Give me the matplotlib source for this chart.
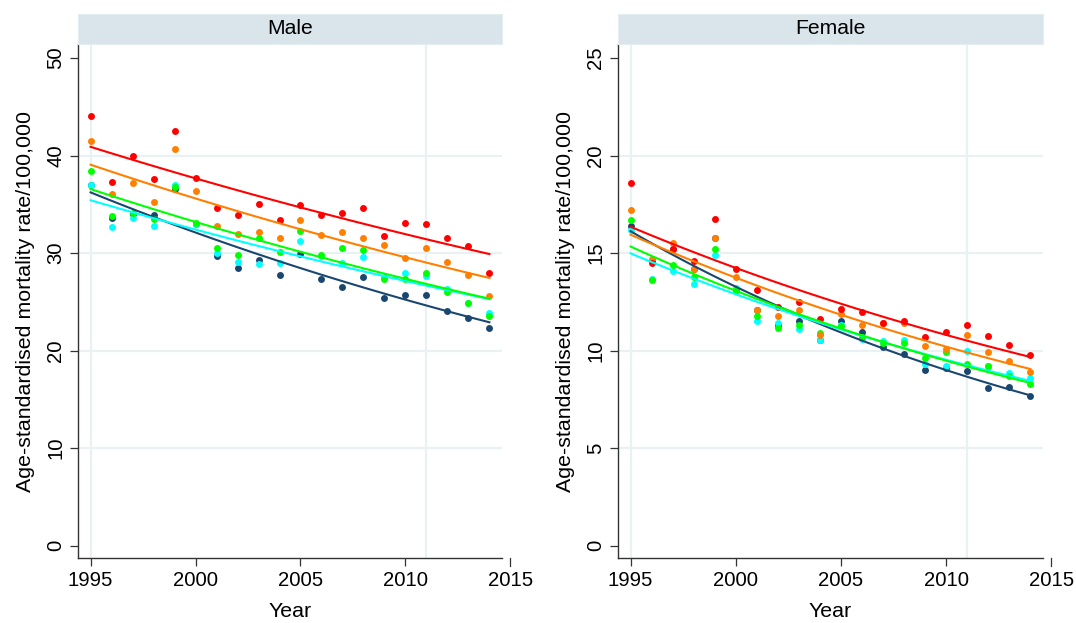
import numpy as np
import matplotlib
matplotlib.use("Agg")
import matplotlib.pyplot as plt
from matplotlib.transforms import blended_transform_factory

plt.rcParams['font.family'] = ['Liberation Sans', 'DejaVu Sans']

years = np.arange(1995, 2015)

# Age-standardised mortality rates per 100,000, by group
male_red = [44.1, 37.3, 40.0, 37.6, 42.5, 37.7, 34.6, 33.9, 35.0, 33.4,
            34.9, 33.9, 34.1, 34.6, 31.8, 33.1, 33.0, 31.5, 30.7, 28.0]
male_orange = [41.5, 36.1, 37.2, 35.2, 40.7, 36.4, 32.8, 32.0, 32.2, 31.5,
               33.4, 31.9, 32.2, 31.5, 30.8, 29.5, 30.5, 29.1, 27.8, 25.6]
male_green = [38.4, 33.8, 34.1, 33.5, 36.8, 33.1, 30.5, 29.8, 31.6, 30.1,
              32.3, 29.8, 30.5, 30.3, 27.3, 27.3, 28.0, 26.0, 24.9, 23.6]
male_cyan = [37.0, 32.7, 33.6, 32.8, 37.0, 33.0, 30.0, 29.1, 28.9, 29.0,
             31.2, 29.7, 29.0, 29.6, 27.5, 28.0, 27.7, 26.3, 24.9, 23.9]
male_navy = [37.0, 33.6, 34.0, 33.9, 36.6, 33.0, 29.7, 28.5, 29.3, 27.8,
             29.9, 27.3, 26.5, 27.6, 25.4, 25.7, 25.7, 24.1, 23.3, 22.3]

female_red = [18.6, 14.5, 15.2, 14.6, 16.75, 14.2, 13.1, 12.25, 12.5, 11.6,
              12.15, 12.0, 11.4, 11.5, 10.7, 10.95, 11.3, 10.75, 10.3, 9.8]
female_orange = [17.2, 14.7, 15.5, 14.2, 15.8, 13.8, 12.1, 11.8, 12.1, 10.8,
                 11.9, 11.3, 11.4, 11.4, 10.25, 10.1, 10.8, 9.95, 9.45, 8.9]
female_green = [16.7, 13.6, 14.4, 13.8, 15.2, 13.1, 11.8, 11.15, 11.3, 10.9,
                11.25, 10.7, 10.4, 10.4, 9.6, 9.95, 9.3, 9.2, 8.7, 8.3]
female_cyan = [16.2, 13.65, 14.1, 13.4, 14.9, 13.2, 11.5, 11.4, 11.1, 10.55,
               11.3, 10.6, 10.5, 10.55, 9.3, 9.2, 10.0, 9.2, 8.85, 8.6]
female_navy = [16.4, 14.6, 15.2, 14.2, 15.8, 13.1, 12.1, 11.3, 11.5, 10.55,
               11.5, 10.95, 10.2, 9.85, 9.0, 9.1, 8.95, 8.1, 8.15, 7.7]

panel_titles = ["Male", "Female"]
y_ticks = [[0, 10, 20, 30, 40, 50], [0, 5, 10, 15, 20, 25]]
y_limits = [(-1.26, 51.44), (-0.63, 25.72)]
x_ticks = [1995, 2000, 2005, 2010, 2015]
x_grid = [1995, 2011]
x_limits = (1994.4, 2014.6)

# drawing order: navy first, red on top
colors = ["#1a476f", "#00ffff", "#00ff00", "#ff7f00", "#ff0000"]
panels = [
    [male_navy, male_cyan, male_green, male_orange, male_red],
    [female_navy, female_cyan, female_green, female_orange, female_red],
]

fig = plt.figure(figsize=(10.76, 6.23), dpi=100)
W, H = 1076, 623
axes_px = [(78, 502), (618, 1043)]
top_px, bottom_px = 44, 558
strip_top = 14

grid_col = "#eaf1f3"
strip_col = "#d9e5ea"
tick_fs = 14.6
title_fs = 15.4

for i, (x0, x1) in enumerate(axes_px):
    ax = fig.add_axes([x0 / W, (H - bottom_px) / H, (x1 - x0) / W, (bottom_px - top_px) / H])
    ax.set_xlim(*x_limits)
    ax.set_ylim(*y_limits[i])

    # grid
    for yv in y_ticks[i][1:-1]:
        ax.axhline(yv, color=grid_col, lw=1.6, zorder=0)
    for xv in x_grid:
        ax.axvline(xv, color=grid_col, lw=1.6, zorder=0)

    t = years.astype(float)
    for vals, c in zip(panels[i], colors):
        v = np.asarray(vals, dtype=float)
        ax.plot(t, v, 'o', ms=5.0, color=c, mec='none', zorder=3)
    # log-linear trend for each group
    for vals, c in zip(panels[i], colors):
        v = np.asarray(vals, dtype=float)
        b, a = np.polyfit(t - 1995, np.log(v), 1, w=np.sqrt(v))
        tt = np.linspace(1995, 2014, 60)
        ax.plot(tt, np.exp(a + b * (tt - 1995)), color=c, lw=1.5, zorder=4)

    for s in ["top", "right"]:
        ax.spines[s].set_visible(False)
    for s in ["left", "bottom"]:
        ax.spines[s].set_color("#333333")
        ax.spines[s].set_linewidth(1.0)

    ax.set_yticks(y_ticks[i])
    ax.set_yticklabels([str(v) for v in y_ticks[i]], rotation=90, va='center', ha='right',
                       fontsize=tick_fs)
    ax.set_xticks(x_ticks[:-1])
    ax.set_xticklabels([str(v) for v in x_ticks[:-1]], fontsize=tick_fs)
    ax.tick_params(axis='both', direction='out', length=5.5, width=0.9, color="#333333",
                   pad=3.5)

    # last tick sits just past the end of the axis line
    trans = blended_transform_factory(ax.transData, ax.transAxes)
    tick_len = 5.5 / 72 * 100 / (bottom_px - top_px)
    ax.plot([x_ticks[-1], x_ticks[-1]], [0, -tick_len], transform=trans, color="#333333",
            lw=0.9, clip_on=False)
    ax.text(x_ticks[-1], -tick_len - 3.5 / 72 * 100 / (bottom_px - top_px), str(x_ticks[-1]),
            transform=trans, ha='center', va='top', fontsize=tick_fs, clip_on=False)

    ax.set_xlabel("Year", fontsize=title_fs, labelpad=9)
    ax.set_ylabel("Age-standardised mortality rate/100,000", fontsize=title_fs, labelpad=8)

    # panel strip
    sax = fig.add_axes([x0 / W, (H - top_px) / H, (x1 - x0) / W, (top_px - strip_top) / H])
    sax.set_facecolor(strip_col)
    sax.set_xticks([])
    sax.set_yticks([])
    for s in sax.spines.values():
        s.set_color("#e4edf0")
        s.set_linewidth(0.8)
    sax.text(0.5, 0.5, panel_titles[i], ha='center', va='center', fontsize=15.2,
             transform=sax.transAxes)

fig.savefig("out.png", dpi=100, facecolor="white")
